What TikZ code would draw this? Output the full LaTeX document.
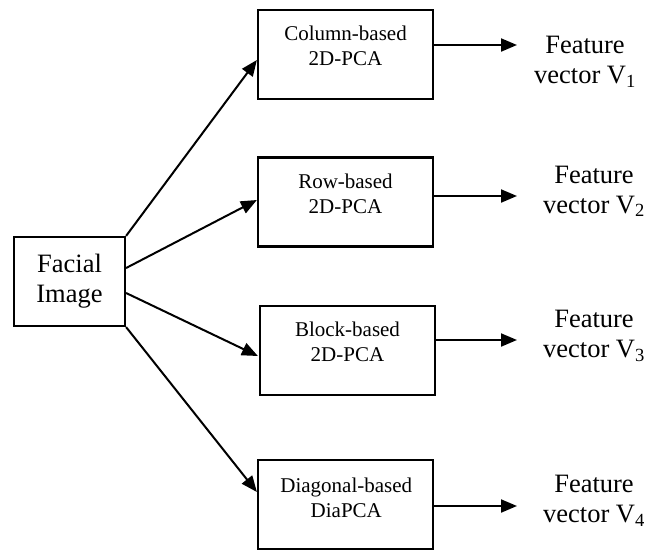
\documentclass[tikz,border=0pt]{standalone}
\usepackage{fontspec}
\setmainfont{Liberation Serif}
\usetikzlibrary{arrows.meta}

\tikzset{
  box/.style={draw, line width=2.2pt, minimum width=175pt, minimum height=89pt, inner sep=0pt},
  srcbox/.style={draw, line width=2.2pt, minimum width=111pt, minimum height=89pt, inner sep=0pt,
                 align=center, font=\fontsize{26.5}{30}\selectfont},
  boxtext/.style={align=center, font=\fontsize{21}{25}\selectfont, inner sep=0pt},
  outtext/.style={align=center, font=\fontsize{26.5}{30}\selectfont, inner sep=0pt},
  arr/.style={line width=2pt, -{Triangle[length=16pt,width=13pt]}},
}

\begin{document}
\begin{tikzpicture}[x=1pt, y=-1pt]
  \useasboundingbox (0,0) rectangle (654,550);

  % input image
  \node[srcbox] (f) at (69.5,281.5) {Facial\\Image};

  % the four PCA variants
  \node[box] (b1) at (345.5,54.5) {};
  \node[box] (b2) at (345.5,202) {};
  \node[box] (b3) at (347.5,350.5) {};
  \node[box] (b4) at (345.5,504.5) {};

  \node[boxtext] (l1) at ([yshift=9pt]b1.center) {Column-based\\2D-PCA};
  \node[boxtext] (l2) at ([yshift=8pt]b2.center) {Row-based\\2D-PCA};
  \node[boxtext] (l3) at ([yshift=8.5pt]b3.center) {Block-based\\2D-PCA};
  \node[boxtext] (l4) at ([yshift=6.3pt,xshift=0.8pt]b4.center) {Diagonal-based\\DiaPCA};

  % resulting feature vectors
  \node[outtext] (v1) at (585,61.9) {Feature\\vector V\textsubscript{1}};
  \node[outtext] (v2) at (594,191.4) {Feature\\vector V\textsubscript{2}};
  \node[outtext] (v3) at (594,335.9) {Feature\\vector V\textsubscript{3}};
  \node[outtext] (v4) at (594,500.9) {Feature\\vector V\textsubscript{4}};

  \coordinate (o1) at (517,45);
  \coordinate (o2) at (517,196);
  \coordinate (o3) at (517,340);
  \coordinate (o4) at (517,506);

  % fan-out from the facial image
  \draw[arr] (f.north east) -- ([yshift=-5.5pt]b1.west);
  \draw[arr] ([yshift=13.5pt]f.east) -- ([yshift=2pt]b2.west);
  \draw[arr] ([yshift=-11.5pt]f.east) -- ([yshift=-5.5pt,xshift=-1pt]b3.west);
  \draw[arr] (f.south east) -- ([yshift=12.5pt]b4.west);

  % outputs
  \draw[arr] ([yshift=9.5pt]b1.east) -- (o1);
  \draw[arr] ([yshift=6pt]b2.east) -- (o2);
  \draw[arr] ([yshift=10.5pt,xshift=-2pt]b3.east) -- (o3);
  \draw[arr] ([yshift=-1.5pt]b4.east) -- (o4);
\end{tikzpicture}
\end{document}
